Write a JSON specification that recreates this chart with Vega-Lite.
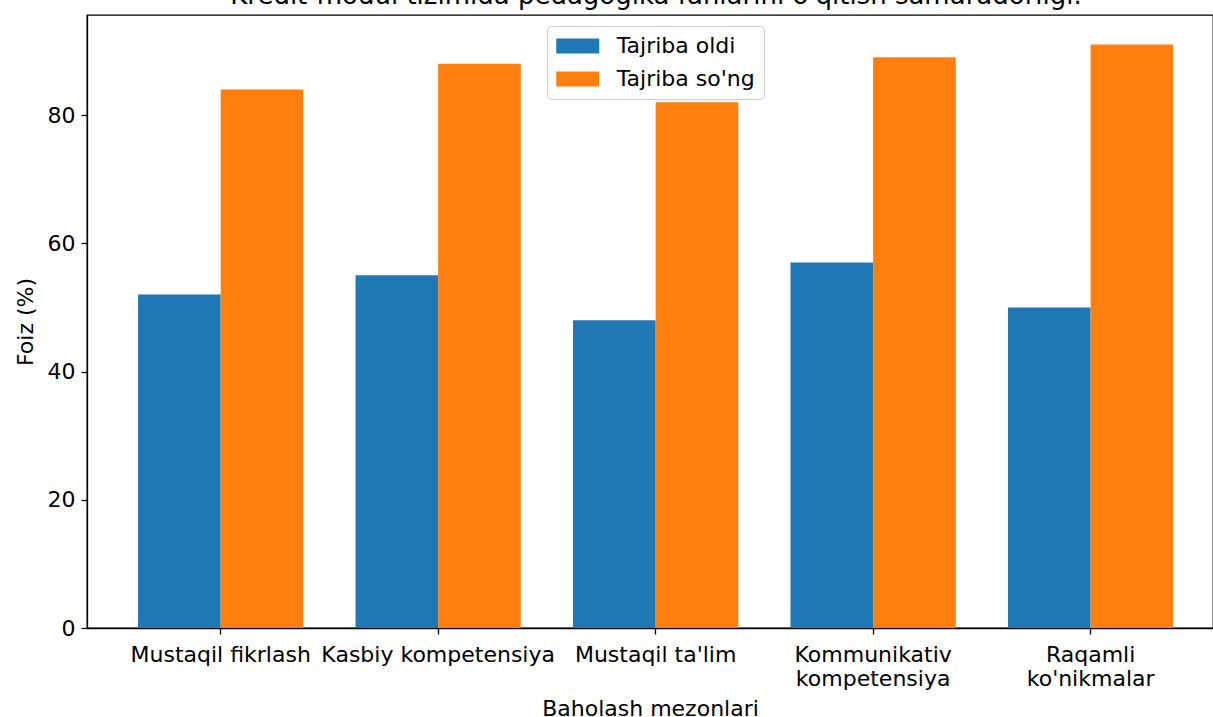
{
  "$schema": "https://vega.github.io/schema/vega-lite/v6.json",
  "autosize": {"type": "none"},
  "padding": {"left": 87, "top": 15, "right": 0, "bottom": 89},
  "width": 1126,
  "height": 613,
  "background": "white",
  "title": {
    "text": "Kredit-modul tizimida pedagogika fanlarini o'qitish samaradorligi.",
    "font": "DejaVu Sans",
    "fontSize": 26,
    "fontWeight": "normal",
    "color": "black",
    "anchor": "middle",
    "baseline": "alphabetic",
    "offset": 0,
    "dx": 6,
    "dy": 15
  },
  "data": {
    "values": [
      {"mezon": "Mustaqil fikrlash", "guruh": "Tajriba oldi", "foiz": 52},
      {"mezon": "Mustaqil fikrlash", "guruh": "Tajriba so'ng", "foiz": 84},
      {"mezon": "Kasbiy kompetensiya", "guruh": "Tajriba oldi", "foiz": 55},
      {"mezon": "Kasbiy kompetensiya", "guruh": "Tajriba so'ng", "foiz": 88},
      {"mezon": "Mustaqil ta'lim", "guruh": "Tajriba oldi", "foiz": 48},
      {"mezon": "Mustaqil ta'lim", "guruh": "Tajriba so'ng", "foiz": 82},
      {"mezon": "Kommunikativ\nkompetensiya", "guruh": "Tajriba oldi", "foiz": 57},
      {"mezon": "Kommunikativ\nkompetensiya", "guruh": "Tajriba so'ng", "foiz": 89},
      {"mezon": "Raqamli\nko'nikmalar", "guruh": "Tajriba oldi", "foiz": 50},
      {"mezon": "Raqamli\nko'nikmalar", "guruh": "Tajriba so'ng", "foiz": 91}
    ]
  },
  "mark": {"type": "bar"},
  "encoding": {
    "x": {
      "field": "mezon",
      "type": "nominal",
      "sort": null,
      "scale": {"paddingInner": 0.24, "paddingOuter": 0.2087, "align": 0.5623},
      "axis": {
        "title": "Baholash mezonlari",
        "labelAngle": 0,
        "labelExpr": "split(datum.label, '\\n')",
        "labelLineHeight": 24,
        "labelBaseline": "top",
        "labelPadding": 10,
        "labelLimit": 0,
        "tickSize": 6,
        "titlePadding": 9
      }
    },
    "xOffset": {
      "field": "guruh",
      "type": "nominal",
      "scale": {"domain": ["Tajriba oldi", "Tajriba so'ng"], "paddingInner": 0, "paddingOuter": 0}
    },
    "y": {
      "field": "foiz",
      "type": "quantitative",
      "scale": {"domain": [0, 95.6], "nice": false, "zero": true},
      "axis": {
        "title": "Foiz (%)",
        "values": [0, 20, 40, 60, 80],
        "grid": false,
        "tickSize": 6,
        "labelPadding": 6,
        "titlePadding": 10
      }
    },
    "color": {
      "field": "guruh",
      "type": "nominal",
      "scale": {"domain": ["Tajriba oldi", "Tajriba so'ng"], "range": ["#1f77b4", "#ff7f0e"]},
      "legend": {
        "title": null,
        "orient": "none",
        "legendX": 460,
        "legendY": 11,
        "symbolType": "M-2,-0.7L2,-0.7L2,0.7L-2,0.7Z",
        "symbolSize": 462,
        "symbolOffset": 10.75,
        "symbolStrokeWidth": 0,
        "labelFont": "DejaVu Sans",
        "labelFontSize": 22,
        "labelColor": "black",
        "labelOffset": 28,
        "rowPadding": 11,
        "padding": 9,
        "strokeColor": "#cccccc",
        "fillColor": "white",
        "cornerRadius": 4
      }
    }
  },
  "config": {
    "view": {"stroke": "black", "strokeWidth": 1.3},
    "axis": {
      "domainColor": "black",
      "domainWidth": 1.3,
      "tickColor": "black",
      "tickWidth": 1.3,
      "labelFont": "DejaVu Sans",
      "labelFontSize": 22,
      "labelColor": "black",
      "titleFont": "DejaVu Sans",
      "titleFontSize": 22,
      "titleFontWeight": "normal",
      "titleColor": "black"
    }
  }
}
